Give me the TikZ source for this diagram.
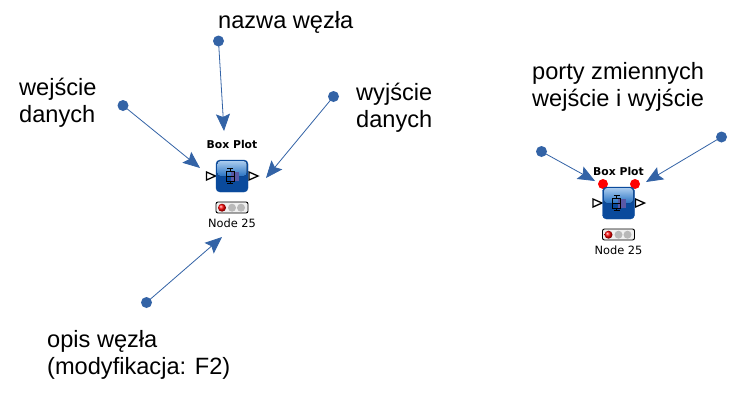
\documentclass[tikz,border=0pt]{standalone}
\usepackage{fontspec}
\setmainfont{Liberation Sans}
\newfontfamily\knimefont{DejaVu Sans}
\usetikzlibrary{arrows.meta,calc}
\definecolor{linkblue}{HTML}{3363A6}
\definecolor{iconlight}{HTML}{A9CBEE}
\definecolor{iconmid}{HTML}{2A74C4}
\definecolor{icondark}{HTML}{0A4A9C}
\tikzset{
    dot/.style={circle,fill=linkblue,inner sep=0pt,minimum size=11pt},
    link/.style={linkblue,line width=0.8pt,-{Stealth[length=17pt,width=14pt,inset=3pt]},shorten <=-2pt},
    caption/.style={align=left,anchor=north west,inner sep=0pt,font=\fontsize{23.6}{27}\selectfont},
    porttip/.style={draw=black,fill=white,line width=1.3pt,line join=miter},
    title/.style={inner sep=0pt,font=\knimefont\bfseries\fontsize{10.8}{11}\selectfont},
    status/.style={inner sep=0pt,font=\knimefont\fontsize{11.4}{12}\selectfont},
    lamp/.style={circle,inner sep=0pt,minimum size=8pt},
    pics/boxnode/.style={code={
        \node[title] (-title) at (0,-32) {Box Plot};
        \draw[porttip] (-25.5,-4) -- (-16.5,0) -- (-25.5,4) -- cycle;
        \draw[porttip] (17,-4) -- (26,0) -- (17,4) -- cycle;
        \draw[rounded corners=4pt,draw=icondark,fill=icondark] (-16,-16) rectangle (16,16);
        \fill[rounded corners=3pt,top color=iconlight,bottom color=iconmid] (-14.5,-15) rectangle (14.5,0);
        \fill[gray!70!blue] (-1,-4) rectangle (7,5);
        % the glyph
        \draw[black,line width=0.9pt] (-2,-8) -- (-2,-4.5) (-2,5) -- (-2,7) (-5,-8) -- (1,-8) (-5,7) -- (1,7);
        \draw[black,line width=0.9pt] (-6,-4.5) rectangle (2,5);
        \draw[black,line width=0.9pt] (-6,0) -- (2,0);
        % traffic light
        \draw[rounded corners=2pt,draw=black,fill=gray!12,line width=0.9pt] (-16,26) rectangle (16,37);
        \node[lamp,ball color=red] (-red) at (-10,31.7) {};
        \node[lamp,fill=gray!55] (-amber) at (0,31.7) {};
        \node[lamp,fill=gray!55] (-green) at (9,31.7) {};
        \node[status] (-name) at (0,47) {Node 25};
    }}
}
\begin{document}
\begin{tikzpicture}[x=1pt,y=-1pt]
    \useasboundingbox (0,0) rectangle (733,400);
    \fill[white] (0,0) rectangle (733,400);

    \node[circle,fill=red,inner sep=0pt,minimum size=10pt] (varin) at (603,184) {};
    \node[circle,fill=red,inner sep=0pt,minimum size=10pt] (varout) at (635,184) {};
    \pic (plain) at (232,176) {boxnode};
    \pic (ported) at (618.5,203) {boxnode};

    \node[caption] (lname) at (218,11.5) {nazwa węzła};
    \node[caption] (lin) at (19,78) {wejście\\danych};
    \node[caption] (lout) at (356,82.5) {wyjście\\danych};
    \node[caption] (ldesc) at (47,330) {opis węzła\\(modyfikacja: F2)};
    \node[caption] (lports) at (532,62) {porty zmiennych\\wejście i wyjście};

    \node[dot] (dname) at (218.5,41) {};
    \node[dot] (din) at (123,105.5) {};
    \node[dot] (dout) at (333.5,96.5) {};
    \node[dot] (ddesc) at (146.5,302.5) {};
    \node[dot] (dvin) at (541.5,151.5) {};
    \node[dot] (dvout) at (721.5,137) {};

    \coordinate (tname) at (224,131);
    \coordinate (tin) at (200,168);
    \coordinate (tout) at (266,178);
    \coordinate (tdesc) at (222,237);
    \coordinate (tvin) at (595,181);
    \coordinate (tvout) at (646,182);

    \draw[link] (dname) -- (tname);
    \draw[link] (din) -- (tin);
    \draw[link] (dout) -- (tout);
    \draw[link] (ddesc) -- (tdesc);
    \draw[link] (dvin) -- (tvin);
    \draw[link] (dvout) -- (tvout);
\end{tikzpicture}
\end{document}
